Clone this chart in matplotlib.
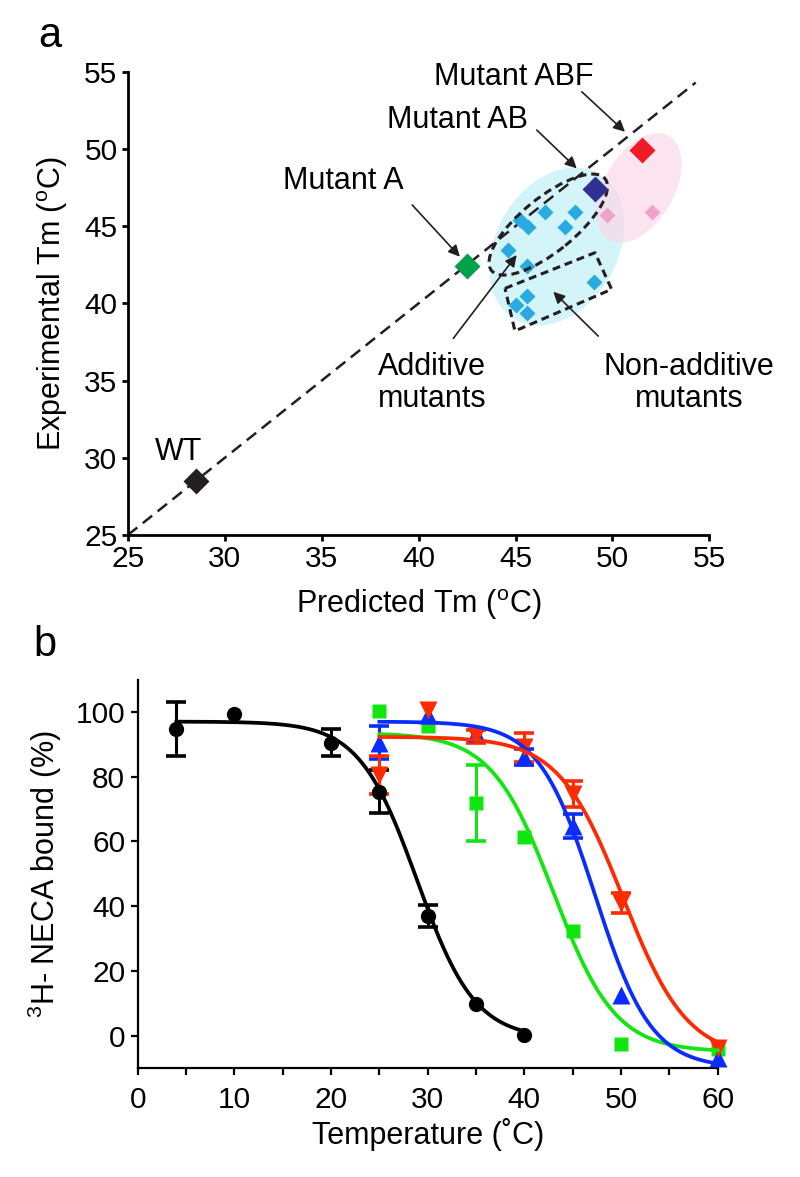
import numpy as np
import matplotlib
matplotlib.use("Agg")
import matplotlib.pyplot as plt
from matplotlib.patches import Ellipse, Polygon, FancyArrowPatch
from matplotlib.transforms import ScaledTranslation

plt.rcParams['font.family'] = ['Liberation Sans', 'DejaVu Sans']
plt.rcParams['mathtext.fontset'] = 'custom'
plt.rcParams['mathtext.rm'] = 'Liberation Sans'
plt.rcParams['mathtext.it'] = 'Liberation Sans:italic'
plt.rcParams['mathtext.bf'] = 'Liberation Sans:bold'

# ---------------- Panel a data ----------------
wt_pt = [28.5, 28.5]
mutA_pt = [42.5, 42.45]
mutAB_pt = [49.1, 47.4]
mutABF_pt = [51.55, 49.9]
pink_pred = [49.7, 52.05]
pink_exp = [45.75, 45.9]
blue_pred = [46.5, 48.05, 47.55, 45.25, 45.65, 44.6, 45.6, 49.05, 45.6, 45.05, 45.6]
blue_exp = [45.9, 45.9, 44.95, 45.4, 44.95, 43.45, 42.4, 41.4, 40.45, 39.9, 39.35]
diag_range = [25, 54.3]
a_ticks = [25, 30, 35, 40, 45, 50, 55]

# ---------------- Panel b data ----------------
wt_T = [4, 10, 20, 25, 30, 35, 40]
wt_val = [94.8, 99.2, 90.5, 75.3, 36.8, 9.9, 0.2]
wt_err = [8.4, 0, 4.2, 6.6, 3.4, 0, 0]

mut_T = [25, 30, 35, 40, 45, 50, 60]
green_val = [100.3, 95.5, 71.8, 61.2, 32.4, -2.5, -4.0]
green_err = [0, 0, 11.7, 0, 0, 0, 0]
blue_val = [90.5, 99.0, 93.5, 86.0, 64.8, 12.7, -6.8]
blue_err = [5.0, 0, 0, 2.5, 3.8, 0, 0]
red_val = [80.5, 100.6, 92.4, 89.0, 74.5, 41.0, -3.7]
red_err = [5.8, 0, 2.0, 4.5, 4.0, 3.0, 0]

# Boltzmann fit parameters: top, bottom, Tm, slope, T start, T end
wt_fit = [97.0, -1.0, 28.9, 3.0, 4, 40]
green_fit = [93.5, -5.0, 43.0, 3.2, 25, 60]
blue_fit = [97.0, -10.0, 47.3, 2.92, 25, 60]
red_fit = [92.3, -7.0, 50.2, 3.33, 25, 60]

b_xticks = [0, 10, 20, 30, 40, 50, 60]
b_yticks = [0, 20, 40, 60, 80, 100]

W, H = 800, 1177
fig = plt.figure(figsize=(W / 100, H / 100), dpi=100)

def px_axes(l, r, t, b):
    return [l / W, 1 - b / H, (r - l) / W, (b - t) / H]

FS = 21.5
ax = fig.add_axes(px_axes(127.9, 709.3, 71.7, 535))
ax.set_xlim(25, 55)
ax.set_ylim(25, 55)
for s in ['top', 'right']:
    ax.spines[s].set_visible(False)
for s in ['left', 'bottom']:
    ax.spines[s].set_linewidth(2.0)
ax.set_xticks(a_ticks)
ax.set_yticks(a_ticks)
ax.tick_params(direction='out', length=4.5, width=2.0, labelsize=FS, pad=3)
ax.set_xlabel(r'Predicted Tm ($^{\rm o}$C)', fontsize=22, labelpad=10)
ax.set_ylabel(r'Experimental Tm ($^{\rm o}$C)', fontsize=22, labelpad=10)

def ell(axis, cx, cy, a_px, b_px, ang, **kw):
    tr = fig.dpi_scale_trans + ScaledTranslation(cx, cy, axis.transData)
    e = Ellipse((0, 0), 2 * a_px / 100, 2 * b_px / 100, angle=ang, transform=tr, **kw)
    axis.add_patch(e)
    return e

ell(ax, 47.13, 43.68, 84, 61, 60, facecolor='#d3f5fa', edgecolor='none', zorder=1)
ell(ax, 51.37, 47.47, 60, 35, 60, facecolor='#fbd8ea', edgecolor='none', alpha=0.7, zorder=1.2)

# diagonal
ax.plot(diag_range, diag_range, color='#231f20', lw=1.8, dashes=(4.8, 2.8), zorder=2)

# dashed outlines
ell(ax, 46.69, 45.1, 73, 27, 39, fill=False, edgecolor='#231f20', lw=2.2,
    linestyle=(0, (2.6, 1.6)), zorder=4)
poly = Polygon([[44.46, 40.97], [49.10, 43.28], [49.96, 40.91], [44.97, 38.21]], closed=True,
               fill=False, edgecolor='#231f20', lw=2.2, linestyle=(0, (2.6, 1.6)),
               joinstyle='round', zorder=4)
ax.add_patch(poly)

ax.plot(blue_pred, blue_exp, 'D', color='#29abe2', ms=8.3, mec='none', zorder=3)
ax.plot(pink_pred, pink_exp, 'D', color='#f0a3c9', ms=8.3, mec='none', zorder=3)
ax.plot(*[[v] for v in wt_pt], 'D', color='#231f20', ms=13.3, mec='none', zorder=5, clip_on=False)
ax.plot(*[[v] for v in mutA_pt], 'D', color='#00a14b', ms=13.3, mec='none', zorder=5)
ax.plot(*[[v] for v in mutAB_pt], 'D', color='#2e3192', ms=13.3, mec='none', zorder=5)
ax.plot(*[[v] for v in mutABF_pt], 'D', color='#ed1c24', ms=13.3, mec='none', zorder=5)

TFS = 22
ax.text(27.6, 30.4, 'WT', fontsize=TFS, ha='center', va='center')
ax.text(36.1, 47.9, 'Mutant A', fontsize=TFS, ha='center', va='center')
ax.text(42.0, 51.87, 'Mutant AB', fontsize=TFS, ha='center', va='center')
ax.text(44.92, 54.68, 'Mutant ABF', fontsize=TFS, ha='center', va='center', clip_on=False)
ax.text(40.7, 34.84, 'Additive\nmutants', fontsize=TFS, ha='center', va='center', linespacing=1.05)
ax.text(53.95, 34.84, 'Non-additive\nmutants', fontsize=TFS, ha='center', va='center', linespacing=1.05)

def arrow(axis, p0, p1):
    a = FancyArrowPatch(p0, p1, arrowstyle='-|>', mutation_scale=17, lw=1.2, color='#231f20',
                        shrinkA=0, shrinkB=0, zorder=6)
    axis.add_patch(a)

arrow(ax, (39.67, 46.37), (42.13, 43.02))
arrow(ax, (46.1, 51.22), (48.16, 48.74))
arrow(ax, (48.42, 53.7), (50.65, 51.11))
arrow(ax, (41.79, 37.73), (45.06, 43.13))
arrow(ax, (49.27, 37.88), (46.95, 40.75))

fig.text(50 / W, 1 - 36 / H, 'a', fontsize=30, ha='center', va='center')
fig.text(45 / W, 1 - 645 / H, 'b', fontsize=30, ha='center', va='center')

# ---------------- Panel b ----------------
bx = fig.add_axes(px_axes(137.7, 717.7, 679.5, 1068))
bx.set_xlim(0, 60)
bx.set_ylim(-10, 110)
for s in ['top', 'right']:
    bx.spines[s].set_visible(False)
for s in ['left', 'bottom']:
    bx.spines[s].set_linewidth(1.6)
bx.set_xticks(b_xticks)
bx.set_xticks([5, 15, 25, 35, 45, 55], minor=True)
bx.set_yticks(b_yticks)
bx.tick_params(which='both', direction='out', length=5, width=1.6, labelsize=FS, pad=8)
bx.tick_params(axis='y', pad=4)
bx.set_xlabel('Temperature (˚C)', fontsize=22, labelpad=3)
bx.set_ylabel(r'$^{3}$H- NECA bound (%)', fontsize=22, labelpad=8)

def boltz(p):
    top, bot, tm, sl, t0, t1 = p
    t = np.linspace(t0, t1, 300)
    return t, bot + (top - bot) / (1 + np.exp((t - tm) / sl))

series = [
    (wt_T, wt_val, wt_err, wt_fit, 'black', 'o', 11),
    (mut_T, green_val, green_err, green_fit, '#11e611', 's', 10.5),
    (mut_T, blue_val, blue_err, blue_fit, '#0a2cff', '^', 13),
    (mut_T, red_val, red_err, red_fit, '#ff2a00', 'v', 13),
]
for T, v, e, fit, c, m, ms in series:
    T = np.array(T, float); v = np.array(v, float); e = np.array(e, float)
    mask = e > 0
    bx.errorbar(T[mask], v[mask], yerr=e[mask], fmt='none', ecolor=c, elinewidth=2.2,
                capsize=7.5, capthick=2.6, zorder=3, clip_on=False)
    bx.plot(T, v, m, color=c, ms=ms, mec='none', zorder=4, clip_on=False)
    tt, yy = boltz(fit)
    bx.plot(tt, yy, '-', color=c, lw=2.7, zorder=5, clip_on=False)

fig.savefig('out.png', dpi=100)
